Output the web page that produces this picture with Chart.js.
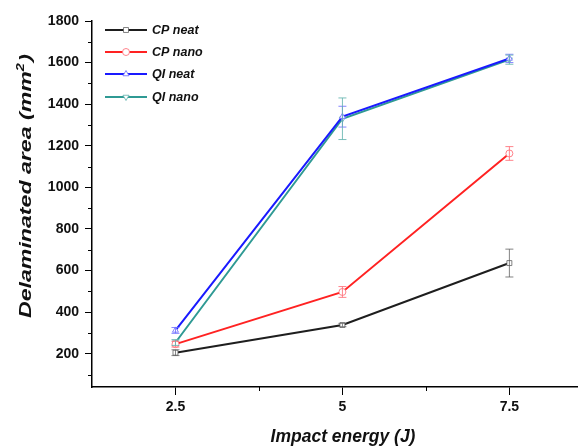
<!DOCTYPE html>
<html>
<head>
<meta charset="utf-8">
<script src="https://cdn.jsdelivr.net/npm/chart.js@4.4.1/dist/chart.umd.min.js"></script>
<style>
  html, body { margin: 0; padding: 0; background: #fff; }
  #wrap { width: 582px; height: 447px; position: relative; }
</style>
</head>
<body>
<div id="wrap"><canvas id="chart"></canvas></div>
<script>
// impact energies (J)
const energies = [2.5, 5, 7.5];
const xTicks = [2.5, 5, 7.5];
const yTicks = [200, 400, 600, 800, 1000, 1200, 1400, 1600, 1800];

// delaminated area (mm2) and error bars
const cpNeat = [205, 338, 636];
const cpNeatErr = [14, 8, 67];
const cpNano = [246, 497, 1163];
const cpNanoErr = [14, 26, 33];
const qiNeat = [312, 1340, 1620];
const qiNeatErr = [14, 50, 20];
const qiNano = [254, 1330, 1614];
const qiNanoErr = [14, 100, 22];

const seriesNames = ['CP neat', 'CP nano', 'QI neat', 'QI nano'];
const yTitle = 'Delaminated area (mm';
const xTitle = 'Impact energy (J)';

const FONT = '"Liberation Sans", Arial, sans-serif';

function mkSet(label, vals, errs, color, pale, style, rot) {
    return {
        label: label,
        data: energies.map((x, i) => ({x: x, y: vals[i]})),
        errors: errs,
        borderColor: color,
        borderWidth: 2,
        pointStyle: style,
        rotation: rot || 0,
        pointRadius: 3.5,
        pointHoverRadius: 3.5,
        pointBackgroundColor: '#fff',
        pointBorderColor: pale,
        pointBorderWidth: 1,
        errColor: pale,
        tension: 0,
        clip: false
    };
}

const errorBars = {
    id: 'errorBars',
    afterDatasetsDraw(chart) {
        const ctx = chart.ctx;
        const ys = chart.scales.y;
        chart.data.datasets.forEach((ds, di) => {
            const meta = chart.getDatasetMeta(di);
            ctx.save();
            ctx.strokeStyle = ds.errColor;
            ctx.lineWidth = 1;
            meta.data.forEach((pt, i) => {
                const v = ds.data[i].y, e = ds.errors[i];
                const top = ys.getPixelForValue(v + e);
                const bot = ys.getPixelForValue(v - e);
                ctx.beginPath();
                ctx.moveTo(pt.x, top); ctx.lineTo(pt.x, bot);
                ctx.moveTo(pt.x - 4, top); ctx.lineTo(pt.x + 4, top);
                ctx.moveTo(pt.x - 4, bot); ctx.lineTo(pt.x + 4, bot);
                ctx.stroke();
            });
            ctx.restore();
        });
    }
};

// minor ticks halfway between the labelled ones + axis titles
const axisExtras = {
    id: 'axisExtras',
    afterDraw(chart) {
        const ctx = chart.ctx;
        const xs = chart.scales.x, ys = chart.scales.y;
        ctx.save();
        ctx.strokeStyle = '#000';
        ctx.lineWidth = 1;
        ctx.beginPath();
        for (let v = 100; v < 1800; v += 200) {
            const y = Math.round(ys.getPixelForValue(v)) + 0.5;
            ctx.moveTo(xs.left, y); ctx.lineTo(xs.left - 4, y);
        }
        [3.75, 6.25].forEach(v => {
            const x = Math.round(xs.getPixelForValue(v)) + 0.5;
            ctx.moveTo(x, ys.bottom); ctx.lineTo(x, ys.bottom + 4);
        });
        ctx.stroke();

        ctx.fillStyle = '#111';
        // x title
        ctx.font = 'italic bold 17.5px ' + FONT;
        ctx.textAlign = 'center';
        ctx.textBaseline = 'alphabetic';
        ctx.fillText(xTitle, 343, 442);

        // y title, rotated and stretched along its length
        ctx.textAlign = 'left';
        ctx.translate(31, 186);
        ctx.rotate(-Math.PI / 2);
        ctx.font = 'italic bold 16px ' + FONT;
        const w1 = ctx.measureText(yTitle).width;
        ctx.font = 'italic bold 10px ' + FONT;
        const w2 = ctx.measureText('2').width;
        ctx.font = 'italic bold 16px ' + FONT;
        const w3 = ctx.measureText(')').width;
        const total = w1 + w2 + w3 + 1;
        ctx.scale(264 / total, 1);
        const x0 = -total / 2;
        ctx.fillText(yTitle, x0, 0);
        ctx.font = 'italic bold 10px ' + FONT;
        ctx.fillText('2', x0 + w1, -7);
        ctx.font = 'italic bold 16px ' + FONT;
        ctx.fillText(')', x0 + w1 + w2 + 1, 0);
        ctx.restore();
    }
};

const legendBox = {
    id: 'legendBox',
    afterDraw(chart) {
        const ctx = chart.ctx;
        const rows = [30, 52, 74, 97];
        ctx.save();
        chart.data.datasets.forEach((ds, i) => {
            const y = rows[i];
            ctx.strokeStyle = ds.borderColor;
            ctx.lineWidth = 2;
            ctx.beginPath();
            ctx.moveTo(105, y); ctx.lineTo(147, y);
            ctx.stroke();
            ctx.fillStyle = '#fff';
            ctx.strokeStyle = ds.pointBorderColor;
            ctx.lineWidth = 1;
            Chart.helpers.drawPoint(ctx, {pointStyle: ds.pointStyle, rotation: ds.rotation, radius: 3.5, borderWidth: 1}, 126, y);
            ctx.fillStyle = '#111';
            ctx.font = 'italic bold 12.5px ' + FONT;
            ctx.textBaseline = 'middle';
            ctx.fillText(ds.label, 152, y + 1);
        });
        ctx.restore();
    }
};

new Chart(document.getElementById('chart'), {
    type: 'line',
    data: {
        datasets: [
            mkSet(seriesNames[0], cpNeat, cpNeatErr, '#1e1e1e', 'rgba(90,90,90,0.75)', 'rect'),
            mkSet(seriesNames[1], cpNano, cpNanoErr, '#ff2222', 'rgba(255,110,120,0.85)', 'circle'),
            mkSet(seriesNames[2], qiNeat, qiNeatErr, '#1a1aff', 'rgba(110,110,255,0.85)', 'triangle'),
            mkSet(seriesNames[3], qiNano, qiNanoErr, '#2f9a94', 'rgba(100,180,175,0.85)', 'triangle', 180)
        ]
    },
    options: {
        responsive: true,
        maintainAspectRatio: false,
        animation: false,
        layout: {padding: {top: 21, right: 0, left: 0, bottom: 0}},
        plugins: {legend: {display: false}, tooltip: {enabled: false}},
        scales: {
            x: {
                type: 'linear',
                min: 1.25,
                max: 8.52,
                afterBuildTicks: s => { s.ticks = xTicks.map(v => ({value: v})); },
                afterFit: s => { s.height = 60; },
                grid: {drawOnChartArea: false, tickLength: 8, color: '#000'},
                border: {color: '#000', width: 1.5},
                ticks: {
                    color: '#111',
                    padding: 4,
                    font: {family: FONT, weight: 'bold', size: 14},
                    callback: v => String(v)
                },
                title: {display: false}
            },
            y: {
                min: 40,
                max: 1800,
                afterBuildTicks: s => { s.ticks = yTicks.map(v => ({value: v})); },
                afterFit: s => { s.width = 92; },
                grid: {drawOnChartArea: false, tickLength: 7, color: '#000'},
                border: {color: '#000', width: 1.5},
                ticks: {
                    color: '#111',
                    padding: 6,
                    font: {family: FONT, weight: 'bold', size: 14},
                    callback: v => String(v)
                },
                title: {display: false}
            }
        }
    },
    plugins: [errorBars, axisExtras, legendBox]
});
</script>
</body>
</html>
